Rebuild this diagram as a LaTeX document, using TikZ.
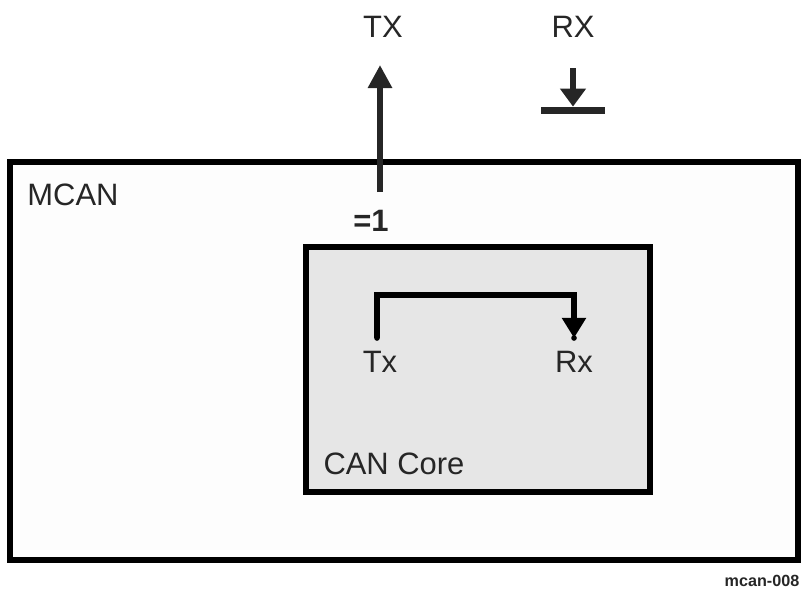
\documentclass[tikz,border=0pt]{standalone}
\usepackage{fontspec}
\setmainfont{Liberation Sans}
\usetikzlibrary{arrows.meta,positioning}
\definecolor{inkgray}{HTML}{262626}
\definecolor{corefill}{HTML}{E6E6E6}
\definecolor{mcanfill}{HTML}{FDFDFD}

\begin{document}
\begin{tikzpicture}[
x=0.025cm, y=-0.025cm,
font=\fontsize{22}{26}\selectfont,
text=inkgray,
mcanbox/.style={draw=black, line width=4.2pt, fill=mcanfill, minimum width=19.69cm, minimum height=9.94cm, inner sep=0pt},
corebox/.style={draw=black, line width=4pt, fill=corefill, minimum width=8.6cm, minimum height=6.125cm, inner sep=0pt},
label/.style={inner sep=0pt},
pinbar/.style={fill=inkgray, minimum width=1.6cm, minimum height=0.18cm, inner sep=0pt},
pindot/.style={circle, fill=black, inner sep=0pt, minimum size=4pt},
arrow/.style={-{Triangle[length=5.75mm, width=5.75mm]}, line width=4.3pt, draw=inkgray},
loop/.style={-{Triangle[length=5mm, width=5.75mm]}, line width=4.3pt, draw=black},
rxarrow/.style={-{Triangle[length=4.5mm, width=6.25mm]}, line width=4.2pt, draw=inkgray}
]
\useasboundingbox (0,0) rectangle (801,592);

\node[mcanbox] (mcan) at (404.25,361.25) {};
\node[corebox] (core) at (478,369.5) {};

\node[label] (mcanlbl) at (73,195) {MCAN};
\node[label] (corelbl) at (394,464) {CAN Core};
\node[label] (txlbl) at (383,27) {TX};
\node[label] (rxlbl) at (573,27) {RX};
\node[label, font=\fontsize{22}{26}\selectfont\bfseries] (xor) at (371,221) {=1};
\node[label] (txin) at (380,362) {Tx};
\node[label] (rxin) at (574,362) {Rx};
\node[label, font=\fontsize{11.5}{13}\selectfont\bfseries] (fig) at (762,581) {mcan-008};

\node[pinbar] (rxpin) at (573,110.5) {};
\coordinate (txtip) at (380,65);
\coordinate (txsrc) at (380,192);
\coordinate (rxtop) at (573,68);

\node[pindot] (txdot) at (377,338) {};
\node[pindot] (rxdot) at (574,338) {};
\coordinate (bend) at (476,295);

\draw[arrow] (txsrc) -- (txtip);
\draw[rxarrow] (rxtop) -- (rxpin.north);
\draw[loop] (txdot.center) |- (bend) -| (rxdot.center);
\end{tikzpicture}
\end{document}
